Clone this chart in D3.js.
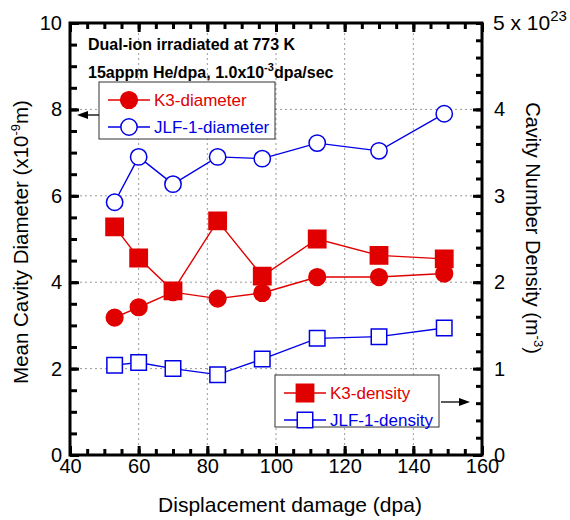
<!DOCTYPE html>
<html>
<head>
<meta charset="utf-8">
<script src="https://cdn.jsdelivr.net/npm/d3@7"></script>
<style>
  body { margin: 0; background: #fff; }
  svg text { font-family: "Liberation Sans", Arial, Helvetica, sans-serif; }
</style>
</head>
<body>
<svg id="chart" width="570" height="520"></svg>
<script>
// data
var dpa = [53, 60, 70, 83, 96, 112, 130, 149];
var k3Diameter = [3.18, 3.42, 3.77, 3.62, 3.75, 4.12, 4.12, 4.2];
var jlfDiameter = [5.85, 6.9, 6.27, 6.9, 6.86, 7.22, 7.04, 7.9];
var k3Density = [2.64, 2.28, 1.9, 2.71, 2.07, 2.5, 2.31, 2.27];   // x 10^23
var jlfDensity = [1.04, 1.07, 1.0, 0.93, 1.11, 1.35, 1.37, 1.47]; // x 10^23

var xTicks = [40, 60, 80, 100, 120, 140, 160];
var yLeftTicks = [0, 2, 4, 6, 8, 10];
var yRightTicks = [0, 1, 2, 3, 4];

var red = "#e00000", blue = "#0000e6";

var svg = d3.select("#chart"),
    margin = {top: 23, right: 88, bottom: 65, left: 70},
    width = +svg.attr("width") - margin.left - margin.right,
    height = +svg.attr("height") - margin.top - margin.bottom;

var x = d3.scaleLinear().domain([40, 160]).range([0, width]),
    yL = d3.scaleLinear().domain([0, 10]).range([height, 0]),
    yR = d3.scaleLinear().domain([0, 5]).range([height, 0]);

var g = svg.append("g")
    .attr("transform", "translate(" + margin.left + "," + margin.top + ")");

// dotted grid
g.append("g").selectAll("line")
  .data(xTicks.slice(1, -1))
  .enter().append("line")
    .attr("x1", d => x(d)).attr("x2", d => x(d))
    .attr("y1", 0).attr("y2", height)
    .attr("stroke", "#999").attr("stroke-dasharray", "2,3");
g.append("g").selectAll("line")
  .data(yLeftTicks.slice(1, -1))
  .enter().append("line")
    .attr("x1", 0).attr("x2", width)
    .attr("y1", d => yL(d)).attr("y2", d => yL(d))
    .attr("stroke", "#999").attr("stroke-dasharray", "2,3");

// axes: minor ticks, then major ticks with labels
function styleAxis(sel) {
  sel.select(".domain").remove();
  sel.selectAll(".tick line").attr("stroke", "#000").attr("stroke-width", 3);
  sel.selectAll(".tick text").attr("fill", "#000").style("font-size", "20px");
}

g.append("g").attr("transform", "translate(0," + height + ")")
  .call(d3.axisBottom(x).tickValues(d3.range(40, 161, 5)).tickSize(-6).tickFormat(""))
  .call(styleAxis);
g.append("g").attr("transform", "translate(0," + height + ")")
  .call(d3.axisBottom(x).tickValues(xTicks).tickSize(-9).tickPadding(4).tickFormat(d3.format("d")))
  .call(styleAxis);
g.append("g")
  .call(d3.axisTop(x).tickValues(d3.range(40, 161, 5)).tickSize(-6).tickFormat(""))
  .call(styleAxis);
g.append("g")
  .call(d3.axisTop(x).tickValues(xTicks).tickSize(-9).tickFormat(""))
  .call(styleAxis);

g.append("g")
  .call(d3.axisLeft(yL).tickValues(d3.range(0, 10.01, 0.5)).tickSize(-7).tickFormat(""))
  .call(styleAxis);
g.append("g")
  .call(d3.axisLeft(yL).tickValues(yLeftTicks).tickSize(-9).tickPadding(8).tickFormat(d3.format("d")))
  .call(styleAxis);

g.append("g").attr("transform", "translate(" + width + ",0)")
  .call(d3.axisRight(yR).tickValues(d3.range(0, 5.01, 0.2)).tickSize(-6).tickFormat(""))
  .call(styleAxis);
g.append("g").attr("transform", "translate(" + width + ",0)")
  .call(d3.axisRight(yR).tickValues(yRightTicks).tickSize(-9).tickPadding(12).tickFormat(d3.format("d")))
  .call(styleAxis);

// frame
g.append("rect")
    .attr("width", width).attr("height", height)
    .attr("fill", "none").attr("stroke", "#000").attr("stroke-width", 3);

// 5 x 10^23 at the top of the right axis
var topLab = g.append("text")
    .attr("x", width + 11).attr("y", 7)
    .style("font-size", "21px");
topLab.append("tspan").text("5 x 10");
topLab.append("tspan").attr("dy", -9).style("font-size", "15px").text("23");

// series
function drawSeries(vals, yScale, color, shape, filled, size) {
  var line = d3.line().x((d, i) => x(dpa[i])).y(d => yScale(d));
  g.append("path").datum(vals)
    .attr("d", line).attr("fill", "none")
    .attr("stroke", color).attr("stroke-width", 1.4);
  var sym = d3.symbol().type(shape).size(size);
  g.append("g").selectAll("path")
    .data(vals)
    .enter().append("path")
      .attr("d", sym)
      .attr("transform", (d, i) => "translate(" + x(dpa[i]) + "," + yScale(d) + ")")
      .attr("fill", filled ? color : "#fff")
      .attr("stroke", color).attr("stroke-width", 1.5);
}

drawSeries(jlfDensity, yR, blue, d3.symbolSquare, false, 240);
drawSeries(k3Density, yR, red, d3.symbolSquare, true, 300);
drawSeries(jlfDiameter, yL, blue, d3.symbolCircle, false, 210);
drawSeries(k3Diameter, yL, red, d3.symbolCircle, true, 220);

// annotations
g.append("text").attr("x", 18).attr("y", 27)
    .style("font-size", "16px").style("font-weight", "bold")
    .text("Dual-ion irradiated at 773 K");
var ann = g.append("text").attr("x", 18).attr("y", 55)
    .style("font-size", "16px").style("font-weight", "bold");
ann.append("tspan").text("15appm He/dpa, 1.0x10");
ann.append("tspan").attr("dy", -7).style("font-size", "11px").text("-3");
ann.append("tspan").attr("dy", 7).text("dpa/sec");

// legends
function legend(x0, y0, w, h, items) {
  var lg = g.append("g").attr("transform", "translate(" + x0 + "," + y0 + ")");
  lg.append("rect").attr("width", w).attr("height", h)
    .attr("fill", "#fff").attr("stroke", "#333").attr("stroke-width", 1);
  items.forEach(function(it, i) {
    var yy = 18 + i * 27;
    lg.append("line").attr("x1", 9).attr("x2", 51).attr("y1", yy).attr("y2", yy)
      .attr("stroke", it.color).attr("stroke-width", 1.4);
    lg.append("path").attr("d", d3.symbol().type(it.shape).size(it.size))
      .attr("transform", "translate(30," + yy + ")")
      .attr("fill", it.filled ? it.color : "#fff")
      .attr("stroke", it.color).attr("stroke-width", 1.5);
    lg.append("text").attr("x", 55).attr("y", yy + 6)
      .attr("fill", it.color).style("font-size", "17px").text(it.label);
  });
}

legend(29, 59, 176, 57, [
  {label: "K3-diameter", color: red, shape: d3.symbolCircle, filled: true, size: 220},
  {label: "JLF-1-diameter", color: blue, shape: d3.symbolCircle, filled: false, size: 210}
]);
legend(205, 352, 164, 52, [
  {label: "K3-density", color: red, shape: d3.symbolSquare, filled: true, size: 300},
  {label: "JLF-1-density", color: blue, shape: d3.symbolSquare, filled: false, size: 240}
]);

// arrows pointing to the axes
function arrow(x1, x2, yy) {
  var dir = x2 > x1 ? 1 : -1;
  g.append("line").attr("x1", x1).attr("x2", x2 - dir * 8).attr("y1", yy).attr("y2", yy)
    .attr("stroke", "#000").attr("stroke-width", 1.3);
  g.append("path")
    .attr("d", "M" + x2 + "," + yy + "L" + (x2 - dir * 11) + "," + (yy - 4) + "L" + (x2 - dir * 11) + "," + (yy + 4) + "Z")
    .attr("fill", "#000");
}
arrow(29, 7, 92);
arrow(371, 400, 379);

// axis titles
svg.append("text")
    .attr("text-anchor", "middle")
    .attr("x", 290).attr("y", 512)
    .style("font-size", "21px")
    .text("Displacement damage (dpa)");

var lt = svg.append("text")
    .attr("text-anchor", "middle")
    .attr("transform", "translate(28,242) rotate(-90)")
    .style("font-size", "20.5px");
lt.append("tspan").text("Mean Cavity Diameter (x10");
lt.append("tspan").attr("dy", -8).style("font-size", "13px").text("-9");
lt.append("tspan").attr("dy", 8).text("m)");

var rt = svg.append("text")
    .attr("text-anchor", "middle")
    .attr("transform", "translate(526,228) rotate(90)")
    .style("font-size", "20px");
rt.append("tspan").text("Cavity Number Density (m");
rt.append("tspan").attr("dy", -8).style("font-size", "13px").text("-3");
rt.append("tspan").attr("dy", 8).text(")");
</script>
</body>
</html>
